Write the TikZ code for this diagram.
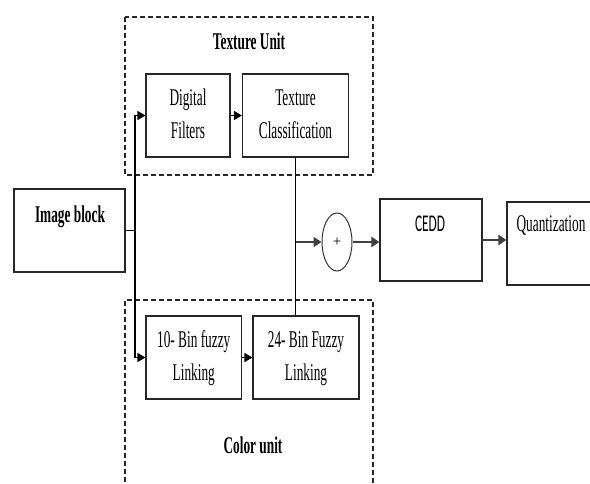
\documentclass[tikz,border=0pt]{standalone}
\usepackage{fontspec}
\setmainfont{Liberation Serif}
\newfontfamily\carlitofont{Carlito}
\usetikzlibrary{arrows.meta,shapes.geometric}
\newcommand{\sq}[1]{\scalebox{0.555}[1]{#1}}
\newcommand{\twol}[2]{\sq{\begin{tabular}{@{}c@{}}#1\\#2\end{tabular}}}
\begin{document}
\begin{tikzpicture}[x=1pt,y=-1pt,
  box/.style={draw=black!85,line width=1.1pt,inner sep=0pt,font=\fontsize{24}{33.5}\selectfont},
  txt/.style={inner sep=0pt,anchor=base,font=\fontsize{24}{33.5}\selectfont},
  arr/.style={draw=black,line width=1.1pt,-{Triangle[length=8pt,width=9pt]}},
  thk/.style={draw=black!75,line width=2.2pt,-{Triangle[length=8pt,width=10pt]}},
  dbox/.style={draw=black!85,line width=1.2pt,dash pattern=on 5pt off 3pt}]
\clip (0,0) rectangle (590,484);
\fill[white] (0,0) rectangle (590,484);
% dashed units
\draw[dbox] (125,17) rectangle (373,175);
\draw[dbox] (125,490) -- (125,300) -- (373,300) -- (373,490);
% boxes
\node[box,minimum width=111pt,minimum height=83pt] (img) at (69.5,230.5) {};
\node[box,minimum width=84pt,minimum height=83pt] (df) at (188,115.5) {\twol{Digital}{Filters}};
\node[box,minimum width=106pt,minimum height=83pt] (tc) at (295.5,115.5) {\twol{Texture}{Classification}};
\node[box,minimum width=95.5pt,minimum height=83pt] (b10) at (193.75,357.5) {\twol{10- Bin fuzzy}{Linking}};
\node[box,minimum width=106pt,minimum height=83pt] (b24) at (306,357.5) {\twol{24- Bin Fuzzy}{Linking}};
\node[draw=black!80,line width=1pt,ellipse,inner sep=0pt,minimum width=30pt,minimum height=58pt,font=\fontsize{15}{16}\selectfont] (plus) at (337,242) {+};
\node[box,minimum width=102pt,minimum height=82pt] (cedd) at (431,240) {};
\node[box,minimum width=113pt,minimum height=83pt] (quant) at (563.5,243.5) {};
% texts
\node[txt,font=\fontsize{24}{33.5}\selectfont\bfseries] (imgt) at (70,223) {\sq{Image block}};
\node[txt,font=\fontsize{24}{33.5}\selectfont\bfseries] (tut) at (249,50) {\sq{Texture Unit}};
\node[txt,font=\fontsize{24}{33.5}\selectfont\bfseries] (cut) at (253,453) {\sq{Color unit}};
\node[txt,font=\fontsize{24}{33.5}\carlitofont] (ceddt) at (430,232) {\sq{CEDD}};
\node[txt] (quantt) at (551,232) {\sq{Quantization}};
% connectors
\coordinate (j) at (135,0);
\draw[line width=1.4pt] (img.east) -- (img.east -| j);
\draw[arr] (img.east -| j) |- (df.west);
\draw[arr] (img.east -| j) |- (b10.west);
\draw[arr] (df.east) -- (tc.west);
\draw[arr] (b10.east) -- (b24.west);
\draw[line width=1.1pt] (tc.south) -- (tc.south |- b24.north);
\draw[thk] (tc.south |- plus.west) -- (plus.west);
\draw[thk] (plus.east) -- (plus.east -| cedd.west);
\draw[thk] (cedd.east) -- (cedd.east -| quant.west);
\end{tikzpicture}
\end{document}
